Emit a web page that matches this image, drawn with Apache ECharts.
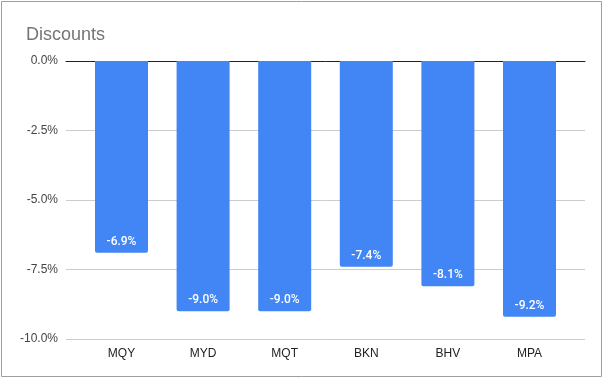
<!DOCTYPE html>
<html><head><meta charset="utf-8">
<script src="https://cdn.jsdelivr.net/npm/echarts@6/dist/echarts.min.js"></script>
<style>html,body{margin:0;padding:0;background:#fff}#c{width:604px;height:379px}</style>
</head><body><div id="c"></div>
<script>
const categories = ['MQY','MYD','MQT','BKN','BHV','MPA'];
const discounts = [-6.9, -9.0, -9.0, -7.4, -8.1, -9.2];
const yTicks = [0, -2.5, -5, -7.5, -10];

const chart = echarts.init(document.getElementById('c'));
const font = '"Liberation Sans", Arial, sans-serif';
const lfont = 'Roboto, "Liberation Sans", Arial, sans-serif';
chart.setOption({
  animation: false,
  title: {text: 'Discounts', left: 21, top: 21, textStyle: {fontFamily: font, fontSize: 18, fontWeight: 'normal', color: '#757575'}},
  graphic: [{type: 'rect', shape: {x: 1.5, y: 1.5, width: 600, height: 375}, style: {fill: 'none', stroke: '#9e9e9e', lineWidth: 1}, silent: true}],
  grid: [
    {left: 66, right: 19, top: 61, bottom: 40},
    {left: 80.7, right: 33.7, top: 61, bottom: 40}
  ],
  xAxis: [
    {gridIndex: 0, type: 'value', position: 'top', min: 0, max: 1, axisLine: {show: true, onZero: false, lineStyle: {color: '#222', width: 1}}, axisTick: {show: false}, axisLabel: {show: false}, splitLine: {show: false}},
    {gridIndex: 1, type: 'category', data: categories, position: 'bottom', axisLine: {show: false, onZero: false}, axisTick: {show: false}, axisLabel: {margin: 9, fontFamily: font, fontSize: 12, color: '#222'}}
  ],
  yAxis: [
    {gridIndex: 0, type: 'value', min: yTicks[yTicks.length-1], max: yTicks[0], interval: 2.5, axisLine: {show: false}, axisTick: {show: false},
     axisLabel: {margin: 8, fontFamily: font, fontSize: 12, color: '#444', formatter: v => v.toFixed(1) + '%'},
     splitLine: {lineStyle: {color: '#cccccc', width: 1}}},
    {gridIndex: 1, type: 'value', min: -10, max: 0, show: false}
  ],
  series: [{
    type: 'bar', xAxisIndex: 1, yAxisIndex: 1, data: discounts, barWidth: 53,
    itemStyle: {color: '#4285f4', borderRadius: [0, 0, 2, 2]},
    label: {show: true, position: 'insideBottom', distance: 5, fontFamily: lfont, fontSize: 12, fontWeight: 500, color: '#fff', formatter: p => p.value.toFixed(1) + '%'}
  }]
});
</script></body></html>
